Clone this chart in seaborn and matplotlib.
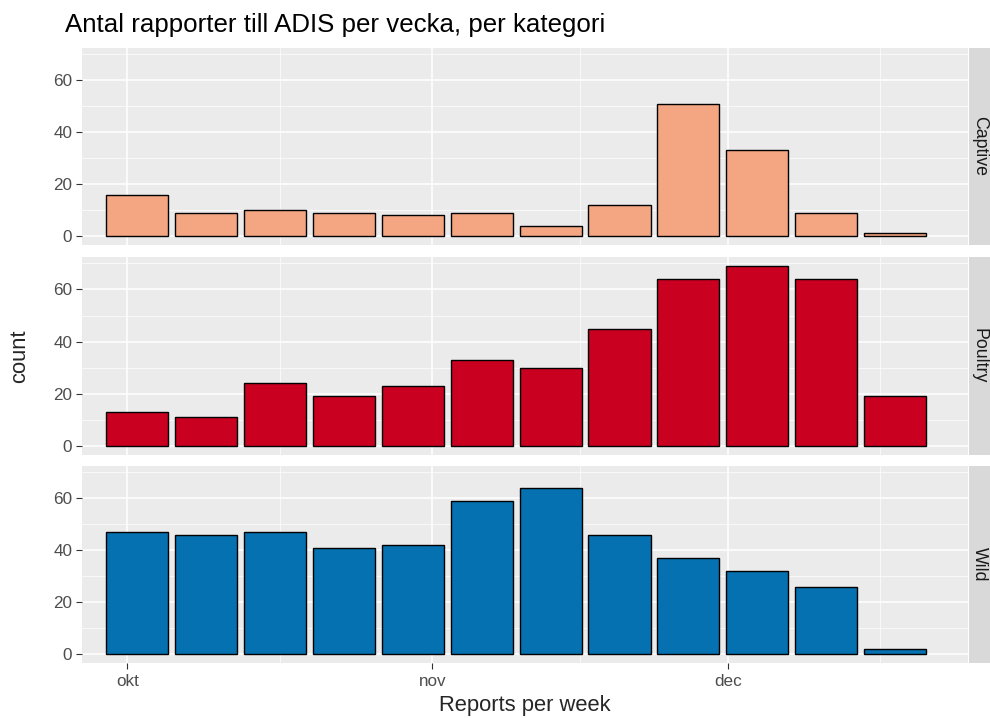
import numpy as np
import pandas as pd
import matplotlib
matplotlib.use("Agg")
import matplotlib.pyplot as plt
import seaborn as sns

# ---- data ----
week_dates = ["2016-10-02", "2016-10-09", "2016-10-16", "2016-10-23", "2016-10-30", "2016-11-06",
              "2016-11-13", "2016-11-20", "2016-11-27", "2016-12-04", "2016-12-11", "2016-12-18"]
captive = [16, 9, 10, 9, 8, 9, 4, 12, 51, 33, 9, 1]
poultry = [13, 11, 24, 19, 23, 33, 30, 45, 64, 69, 64, 19]
wild = [47, 46, 47, 41, 42, 59, 64, 46, 37, 32, 26, 2]
categories = ["Captive", "Poultry", "Wild"]
colors = ["#F4A582", "#CA0020", "#0571B0"]
tick_dates = ["2016-10-01", "2016-11-01", "2016-12-01"]
tick_labels = ["okt", "nov", "dec"]

sns.set_theme(style="darkgrid")
plt.rcParams["font.family"] = ["Liberation Sans", "DejaVu Sans"]

origin = pd.Timestamp("2016-10-01")
days = [(pd.Timestamp(d) - origin).days for d in week_dates]
tick_pos = [(pd.Timestamp(d) - origin).days for d in tick_dates]

frames = []
for cat, vals in zip(categories, [captive, poultry, wild]):
    frames.append(pd.DataFrame({"day": days, "count": vals, "cat": cat}))
df = pd.concat(frames, ignore_index=True)

W, H = 990, 718
fig = plt.figure(figsize=(W / 100, H / 100), dpi=100)
fig.patch.set_facecolor("white")

left, right = 82, 968
panels = [(48, 245), (257, 455), (466, 663)]
strip_w = 21

xmin, xmax = -4.6, 85.4
minor = [(tick_pos[i] + tick_pos[i + 1]) / 2 for i in range(len(tick_pos) - 1)]
minor = minor + [tick_pos[-1] + 15.5]

axes = []
for i, (cat, col) in enumerate(zip(categories, colors)):
    top, bot = panels[i]
    ax = fig.add_axes([left / W, 1 - bot / H, (right - left) / W, (bot - top) / H])
    ax.set_facecolor("#EBEBEB")
    sub = df[df["cat"] == cat]
    sns.barplot(data=sub, x="day", y="count", native_scale=True, width=0.9,
                color=col, edgecolor="black", linewidth=1.0, saturation=1, ax=ax,
                errorbar=None)
    ax.set_yticks([0, 20, 40, 60])
    ax.set_yticks([10, 30, 50, 70], minor=True)
    ax.set_xticks(tick_pos)
    ax.set_xticks(minor, minor=True)
    ax.set_xlim(xmin, xmax)
    ax.set_ylim(-3.45, 72.45)
    ax.grid(which="major", color="white", linewidth=1.1)
    ax.grid(which="minor", color="white", linewidth=0.5)
    ax.set_axisbelow(True)
    for s in ax.spines.values():
        s.set_visible(False)
    ax.tick_params(axis="y", which="major", length=4, width=0.8, color="#333333",
                   labelsize=12.3, labelcolor="#4D4D4D", pad=3, left=True)
    ax.tick_params(axis="both", which="minor", length=0)
    ax.set_ylabel("")
    ax.set_xlabel("")
    if i < 2:
        ax.tick_params(axis="x", which="major", length=0, labelbottom=False)
    else:
        ax.set_xticklabels(tick_labels)
        ax.tick_params(axis="x", which="major", length=4, width=0.8, color="#333333",
                       labelsize=12.3, labelcolor="#4D4D4D", pad=4, bottom=True)
    # strip
    sax = fig.add_axes([(right + 1) / W, 1 - bot / H, strip_w / W, (bot - top) / H])
    sax.set_facecolor("#D9D9D9")
    sax.set_xticks([]); sax.set_yticks([])
    for s in sax.spines.values():
        s.set_visible(False)
    sax.text(0.5, 0.5, cat, rotation=-90, ha="center", va="center",
             fontsize=12.8, color="#1A1A1A", transform=sax.transAxes)
    axes.append(ax)

fig.text(65 / W, 1 - 25 / H, "Antal rapporter till ADIS per vecka, per kategori",
         fontsize=18.6, ha="left", va="center", color="black")
fig.text(20 / W, 1 - 356 / H, "count", rotation=90, fontsize=15.8, ha="center", va="center")
fig.text((left + right) / 2 / W, 1 - 706 / H, "Reports per week", fontsize=15.8,
         ha="center", va="center")

fig.savefig("out.png", dpi=100)
